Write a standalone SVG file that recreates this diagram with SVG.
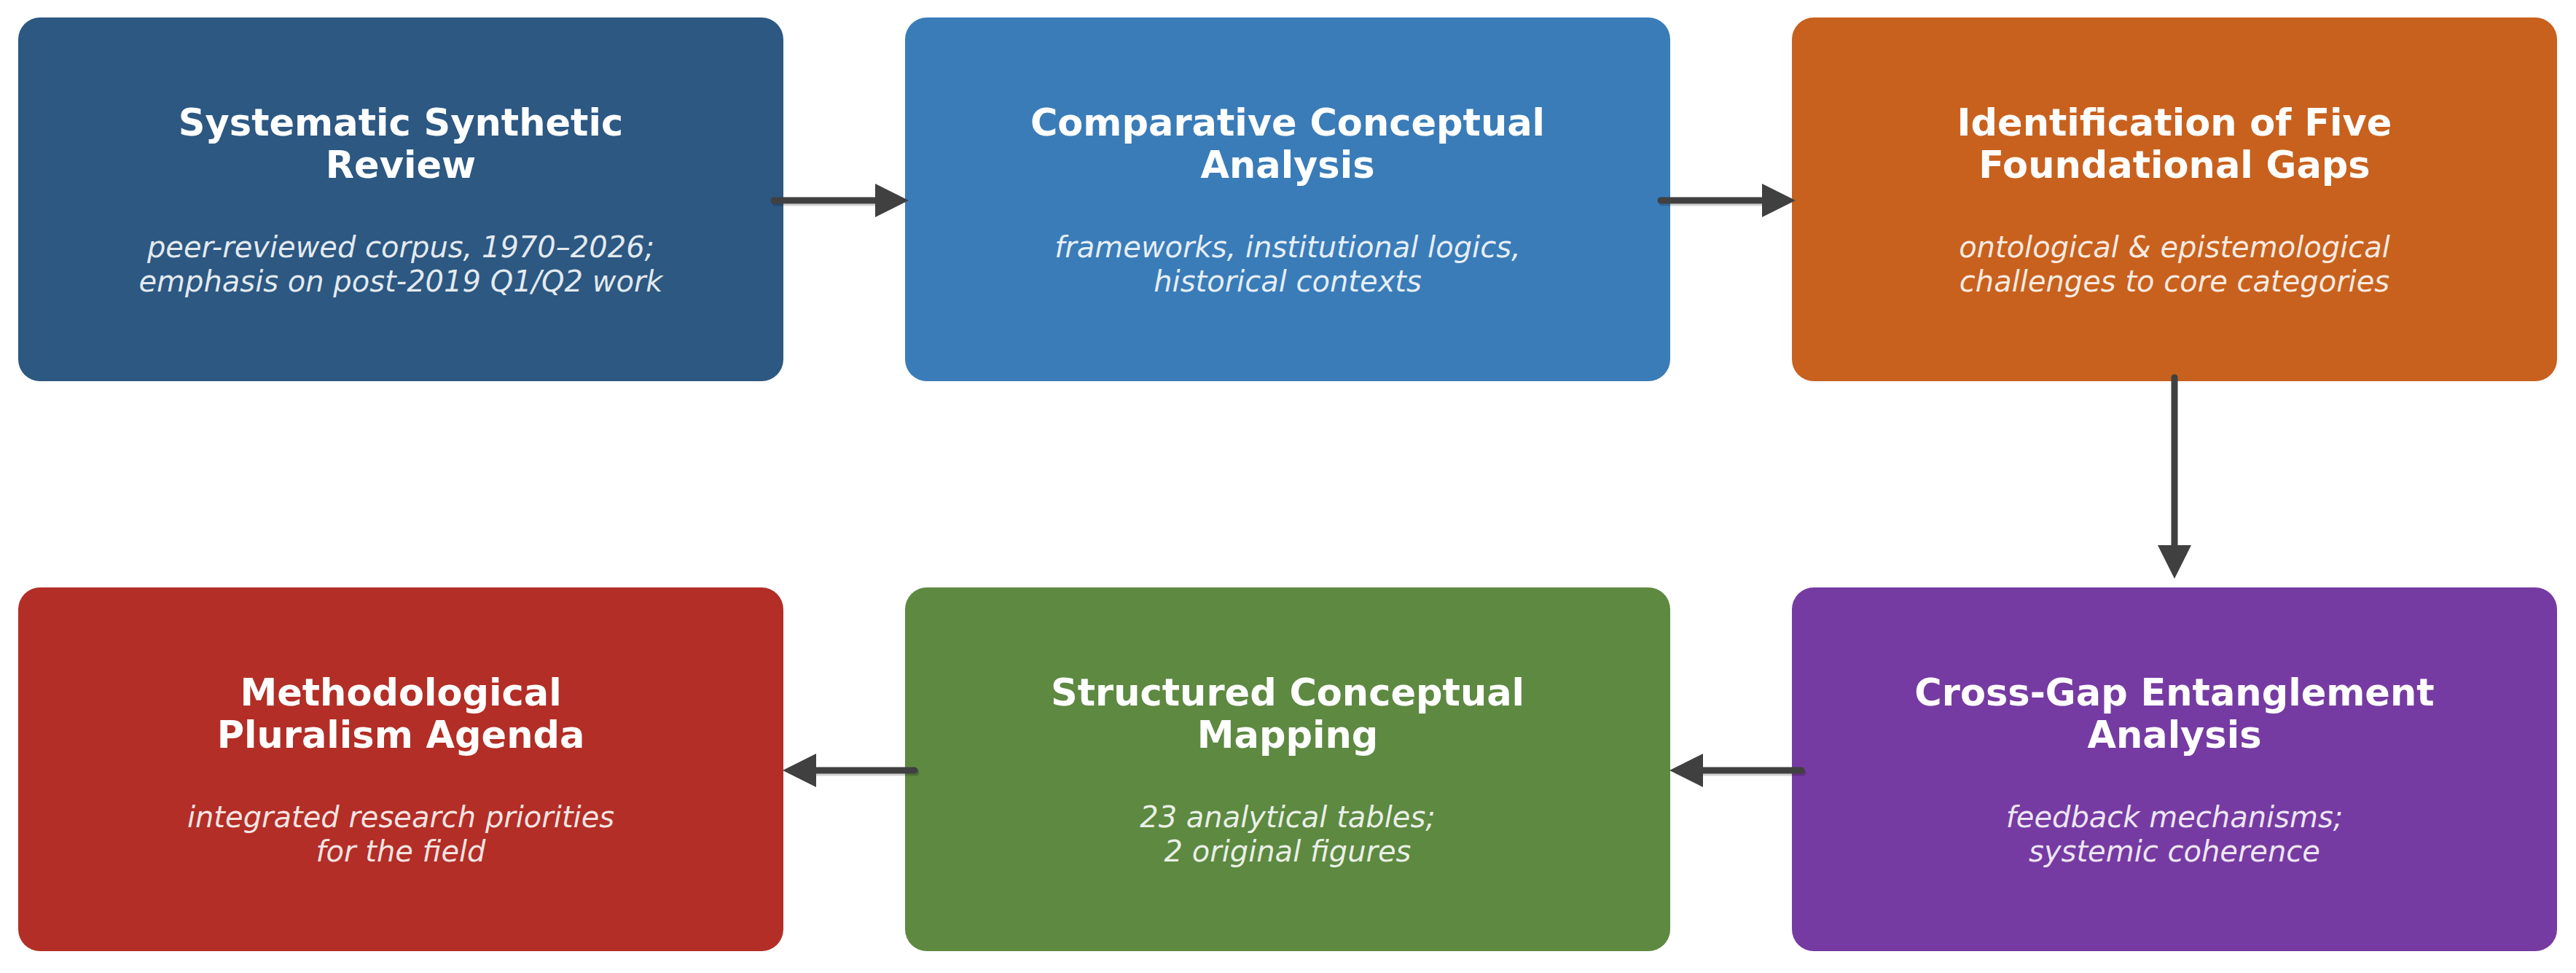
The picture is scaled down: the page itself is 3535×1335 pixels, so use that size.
<svg xmlns="http://www.w3.org/2000/svg" width="3535" height="1335" viewBox="0 0 3535 1335">
<style>
.box{stroke:none}
.t{font-family:"DejaVu Sans",sans-serif;font-weight:bold;font-size:51px;fill:#ffffff;text-anchor:middle}
.s{font-family:"DejaVu Sans",sans-serif;font-style:italic;font-size:40px;fill:#ffffff;fill-opacity:0.88;text-anchor:middle}
.arr{stroke:#404040;stroke-width:9;stroke-linecap:round;fill:none;marker-end:url(#head)}
.sh{stroke:#000000;stroke-opacity:0.18;stroke-width:9;stroke-linecap:round;fill:none}
</style>
<defs>
<marker id="head" viewBox="0 0 46 46" refX="2" refY="23" markerWidth="46" markerHeight="46" markerUnits="userSpaceOnUse" orient="auto">
<path d="M0,0 L46,23 L0,46 Z" fill="#404040"/>
</marker>
</defs>
<rect width="3535" height="1335" fill="#ffffff"/>
<g id="n1">
<rect class="box" x="25" y="24" width="1050" height="499" rx="30" fill="#2C5882"/>
<text class="t" x="550" y="186">Systematic Synthetic</text>
<text class="t" x="550" y="244">Review</text>
<text class="s" x="550" y="353">peer-reviewed corpus, 1970–2026;</text>
<text class="s" x="550" y="400">emphasis on post-2019 Q1/Q2 work</text>
</g>
<g id="n2">
<rect class="box" x="1242" y="24" width="1050" height="499" rx="30" fill="#3A7CB8"/>
<text class="t" x="1767" y="186">Comparative Conceptual</text>
<text class="t" x="1767" y="244">Analysis</text>
<text class="s" x="1767" y="353">frameworks, institutional logics,</text>
<text class="s" x="1767" y="400">historical contexts</text>
</g>
<g id="n3">
<rect class="box" x="2459" y="24" width="1050" height="499" rx="30" fill="#C8611E"/>
<text class="t" x="2984" y="186">Identification of Five</text>
<text class="t" x="2984" y="244">Foundational Gaps</text>
<text class="s" x="2984" y="353">ontological &amp; epistemological</text>
<text class="s" x="2984" y="400">challenges to core categories</text>
</g>
<g id="n4">
<rect class="box" x="2459" y="806" width="1050" height="499" rx="30" fill="#763BA2"/>
<text class="t" x="2984" y="968">Cross-Gap Entanglement</text>
<text class="t" x="2984" y="1026">Analysis</text>
<text class="s" x="2984" y="1135">feedback mechanisms;</text>
<text class="s" x="2984" y="1182">systemic coherence</text>
</g>
<g id="n5">
<rect class="box" x="1242" y="806" width="1050" height="499" rx="30" fill="#5D8941"/>
<text class="t" x="1767" y="968">Structured Conceptual</text>
<text class="t" x="1767" y="1026">Mapping</text>
<text class="s" x="1767" y="1135">23 analytical tables;</text>
<text class="s" x="1767" y="1182">2 original figures</text>
</g>
<g id="n6">
<rect class="box" x="25" y="806" width="1050" height="499" rx="30" fill="#B22E26"/>
<text class="t" x="550" y="968">Methodological</text>
<text class="t" x="550" y="1026">Pluralism Agenda</text>
<text class="s" x="550" y="1135">integrated research priorities</text>
<text class="s" x="550" y="1182">for the field</text>
</g>
<g id="connectors">
<path class="sh" d="M1064,278 L1203,278"/>
<path class="arr" d="M1062,275 L1203,275"/>
<path class="sh" d="M2281,278 L2420,278"/>
<path class="arr" d="M2279,275 L2420,275"/>
<path class="arr" d="M2984,518 L2984,750"/>
<path class="sh" d="M2474,1060 L2335,1060"/>
<path class="arr" d="M2472,1057 L2335,1057"/>
<path class="sh" d="M1257,1060 L1118,1060"/>
<path class="arr" d="M1255,1057 L1118,1057"/>
</g>
</svg>
